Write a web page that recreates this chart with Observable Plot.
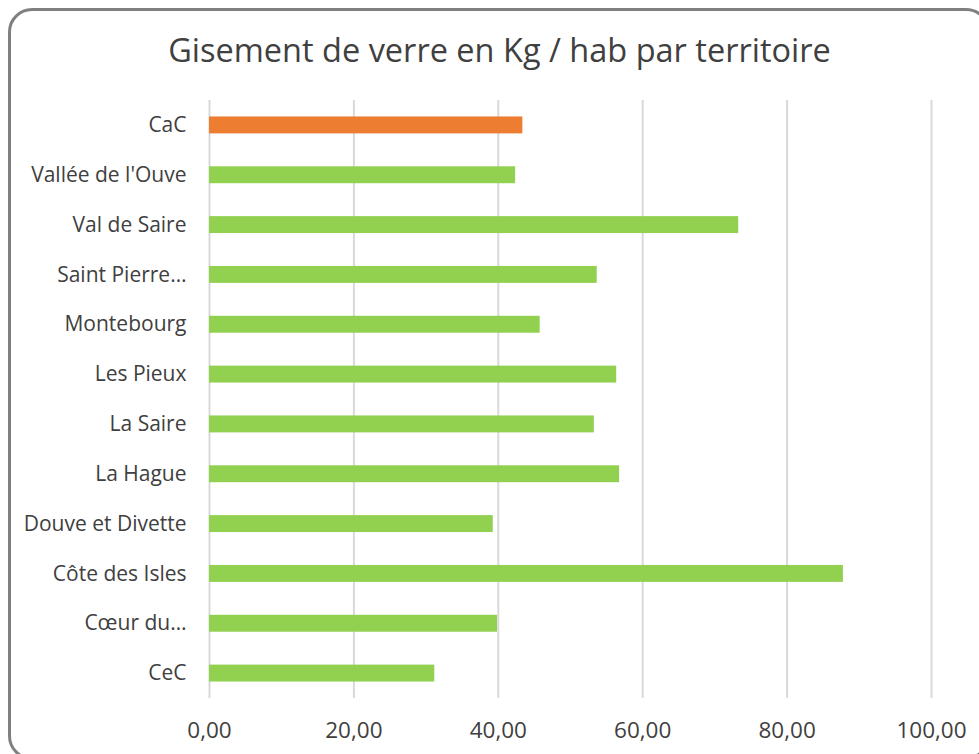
<!DOCTYPE html>
<html>
<head>
<meta charset="utf-8">
<script src="https://cdn.jsdelivr.net/npm/d3@7"></script>
<script src="https://cdn.jsdelivr.net/npm/@observablehq/plot@0.6"></script>
<style>
  html, body { margin: 0; padding: 0; background: #fff; overflow: hidden; }
  #wrap { position: relative; width: 979px; height: 754px; overflow: hidden; font-family: "Open Sans", sans-serif; }
  #frame { position: absolute; left: 8px; top: 8px; width: 982px; height: 752px; border: 3px solid #808080; border-radius: 24px; box-sizing: border-box; pointer-events: none; }
  #title { position: absolute; left: 0; top: 27px; width: 999px; text-align: center; font-size: 32.5px; color: #404040; }
  #chart { position: absolute; left: 0; top: 0; }
</style>
</head>
<body>
<div id="wrap">
  <div id="chart"></div>
  <div id="title">Gisement de verre en Kg / hab par territoire</div>
  <div id="frame"></div>
</div>
<script>
const territoires = ["CaC", "Vallée de l'Ouve", "Val de Saire", "Saint Pierre…", "Montebourg", "Les Pieux", "La Saire", "La Hague", "Douve et Divette", "Côte des Isles", "Cœur du…", "CeC"];
const valeurs = [43.4, 42.4, 73.3, 53.7, 45.8, 56.4, 53.3, 56.8, 39.3, 87.8, 39.9, 31.2];
const groupes = ["CaC", "autre", "autre", "autre", "autre", "autre", "autre", "autre", "autre", "autre", "autre", "autre"];
const xTicks = [0, 20, 40, 60, 80, 100];

const data = territoires.map((t, i) => ({territoire: t, valeur: valeurs[i], groupe: groupes[i]}));
const fmt = d => d.toFixed(2).replace(".", ",");

const chart = Plot.plot({
  width: 979,
  height: 754,
  marginTop: 100,
  marginBottom: 56,
  marginLeft: 209,
  marginRight: 48,
  style: {fontFamily: "'Open Sans', sans-serif", fontSize: "21px", color: "#404040", background: "transparent"},
  x: {domain: [0, 100], ticks: xTicks, tickFormat: fmt, label: null},
  y: {domain: territoires, paddingInner: 0.66, paddingOuter: 0.33, round: false, label: null},
  color: {domain: ["CaC", "autre"], range: ["#ed7d31", "#92d050"]},
  marks: [
    Plot.gridX(xTicks, {stroke: "#d9d9d9", strokeOpacity: 1, strokeWidth: 2}),
    Plot.barX(data, {x: "valeur", y: "territoire", fill: "groupe"}),
    Plot.axisX({ticks: xTicks, tickFormat: fmt, tickSize: 0, tickPadding: 24, fontSize: 22.5, fill: "#404040", label: null}),
    Plot.axisY({tickSize: 0, tickPadding: 23, fontSize: 21, fill: "#404040", label: null})
  ]
});
document.getElementById("chart").appendChild(chart);
</script>
</body>
</html>
